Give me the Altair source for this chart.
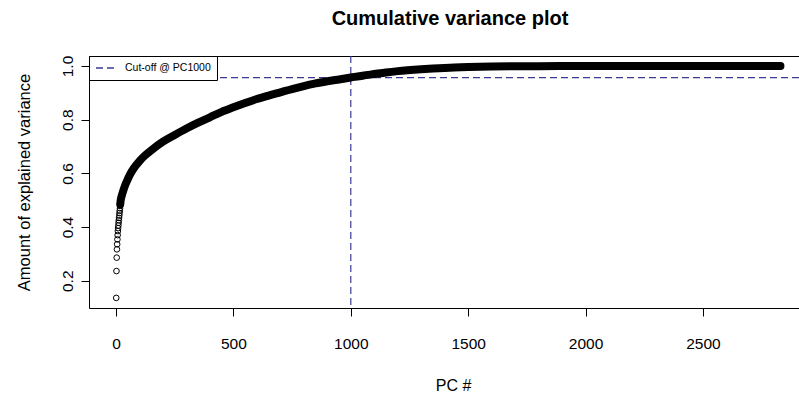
import altair as alt
import pandas as pd

# First principal components, drawn as separate open circles
pc_early = [1, 2, 3, 4, 5, 6, 7, 8, 9, 10, 11, 12, 13, 14, 15, 16, 17, 18, 19, 20]
var_early = [0.136, 0.236, 0.286, 0.317, 0.336, 0.354, 0.370, 0.385, 0.396, 0.406,
             0.416, 0.425, 0.434, 0.443, 0.452, 0.461, 0.470, 0.479, 0.488, 0.497]

# Dense part of the cumulative curve (read at sample PCs)
pc_curve = [18, 20, 25, 30, 40, 50, 60, 75, 100, 125, 150, 200, 250, 300, 350, 400,
            450, 500, 550, 600, 650, 700, 750, 800, 850, 900, 950, 1000, 1050, 1100,
            1150, 1200, 1300, 1400, 1500, 1600, 1700, 1800, 2000, 2200, 2400, 2600, 2830]
var_curve = [0.485, 0.500, 0.518, 0.533, 0.558, 0.578, 0.596, 0.618, 0.646, 0.668,
             0.686, 0.718, 0.743, 0.767, 0.789, 0.809, 0.829, 0.846, 0.862, 0.877,
             0.890, 0.902, 0.914, 0.925, 0.935, 0.943, 0.950, 0.957, 0.964, 0.970,
             0.976, 0.981, 0.988, 0.993, 0.996, 0.998, 0.999, 0.9995, 1.0, 1.0, 1.0,
             1.0, 1.0]

cutoff_pc = [1000]
cutoff_var = [0.957]
legend_labels = ["Cut-off @ PC1000"]

x_ticks = [0, 500, 1000, 1500, 2000, 2500]
y_ticks = [0.2, 0.4, 0.6, 0.8, 1.0]

CUT_COLOR = "#3a3a96"
FONT = "Liberation Sans"

early_df = pd.DataFrame({"pc": pc_early, "var": var_early})
curve_df = pd.DataFrame({"pc": pc_curve, "var": var_curve})
vcut_df = pd.DataFrame({"pc": cutoff_pc})
hcut_df = pd.DataFrame({"var": cutoff_var, "label": legend_labels})

x_scale = alt.Scale(domain=[-115, 2909], nice=False, zero=False)
y_scale = alt.Scale(domain=[0.0984, 1.0373], nice=False, zero=False)

x_axis = alt.Axis(
    values=x_ticks, format="d", title="PC #", grid=False, domain=False,
    tickSize=8, tickColor="black", labelColor="black", labelFontSize=15.5,
    labelFont=FONT, labelPadding=20, labelBaseline="top", labelFlush=False,
    titleFont=FONT, titleFontSize=16, titleFontWeight="normal", titleColor="black",
    titleBaseline="alphabetic", titleY=82, titleX=364, titleAlign="center",
)
y_axis = alt.Axis(
    values=y_ticks, format=".1f", title="Amount of explained variance", grid=False,
    domain=False, tickSize=8, tickColor="black", labelColor="black", labelFontSize=15.5,
    labelFont=FONT, labelAngle=270, labelAlign="center", labelBaseline="alphabetic",
    labelPadding=9, labelFlush=False, labelOverlap=False,
    titleFont=FONT, titleFontSize=16.5, titleFontWeight="normal", titleColor="black",
    titleAngle=270, titleAlign="center", titleBaseline="alphabetic",
    titleX=-60, titleY=126,
)

points = alt.Chart(early_df).mark_point(
    shape="circle", filled=False, color="black", size=32, strokeWidth=1, opacity=1
).encode(
    x=alt.X("pc:Q", scale=x_scale, axis=x_axis),
    y=alt.Y("var:Q", scale=y_scale, axis=y_axis),
)

curve = alt.Chart(curve_df).mark_line(
    color="black", strokeWidth=8, strokeCap="round", strokeJoin="round",
    interpolate="monotone"
).encode(
    x=alt.X("pc:Q", scale=x_scale),
    y=alt.Y("var:Q", scale=y_scale),
)

vline = alt.Chart(vcut_df).mark_rule(
    color=CUT_COLOR, strokeDash=[7, 4], strokeWidth=1.2
).encode(x=alt.X("pc:Q", scale=x_scale))

hline = alt.Chart(hcut_df).mark_rule(
    strokeDash=[7, 4], strokeWidth=1.2
).encode(
    y=alt.Y("var:Q", scale=y_scale),
    color=alt.Color(
        "label:N",
        scale=alt.Scale(domain=legend_labels, range=[CUT_COLOR]),
        legend=alt.Legend(
            title=None, orient="top-left", offset=0, padding=6,
            fillColor="white", strokeColor="black",
            symbolType="stroke", symbolSize=400, symbolDash=[7, 4],
            symbolStrokeWidth=1.3, symbolStrokeColor=CUT_COLOR,
            labelFont=FONT, labelFontSize=10.5, labelColor="black",
            labelOffset=8, labelLimit=300, clipHeight=12,
        ),
    ),
)

chart = alt.layer(vline, hline, curve, points).properties(
    width=710,
    height=252,
    background="white",
    padding={"left": 89, "top": 56, "right": 0, "bottom": 86},
    autosize=alt.AutoSizeParams(type="none"),
    title=alt.TitleParams(
        "Cumulative variance plot", font=FONT, fontSize=20, fontWeight="bold",
        color="black", anchor="middle", frame="group", baseline="alphabetic",
        offset=31.5, dx=6, dy=21,
    ),
).configure_view(
    stroke="black", strokeWidth=1
)

chart.save("out.html", embed_options={"renderer": "svg", "actions": False})
